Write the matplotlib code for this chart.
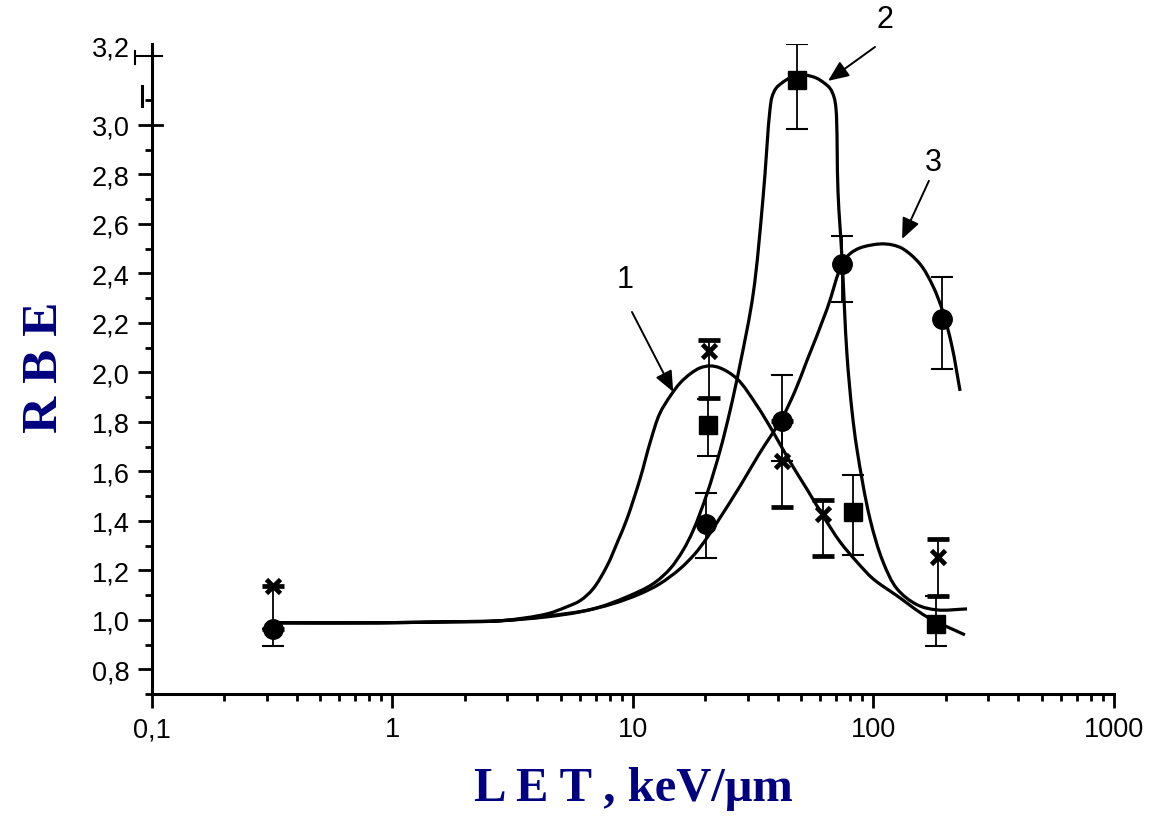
import matplotlib
matplotlib.use("Agg")
import numpy as np
import matplotlib.pyplot as plt
import matplotlib.transforms as mtransforms
from matplotlib.path import Path
from matplotlib.patches import PathPatch
from matplotlib.ticker import FixedLocator, FixedFormatter, NullFormatter

plt.rcParams["font.family"] = ["Liberation Sans", "DejaVu Sans"]

# measured points: 1 - crosses, 2 - squares, 3 - circles
let1 = [0.318, 20.7, 41.7, 61.7, 185.4]
rbe1 = [1.137, 2.087, 1.642, 1.428, 1.255]
err1_lo = [0.173, 0.19, 0.185, 0.169, 0.158]
err1_hi = [0.0, 0.044, 0.16, 0.057, 0.072]

let2 = [20.5, 48.1, 82.2, 182.0]
rbe2 = [1.788, 3.182, 1.436, 0.984]
err2_lo = [0.125, 0.198, 0.173, 0.089]
err2_hi = [0.105, 0.145, 0.150, 0.113]

let3 = [0.318, 20.1, 41.7, 74.0, 192.8]
rbe3 = [0.964, 1.388, 1.804, 2.438, 2.216]
err3_lo = [0.069, 0.138, 0.162, 0.153, 0.202]
err3_hi = [0.0, 0.125, 0.186, 0.113, 0.170]

# fitted curves
fit1_x = [0.318, 0.887, 1.73, 2.80, 4.39, 5.32, 6.02, 6.82, 7.80, 8.66, 9.44, 10.7,
          11.8, 12.9, 14.3, 15.7, 17.3, 19.0, 20.9, 23.0, 27.1, 32.8, 38.2, 45.0,
          52.8, 61.7, 72.6, 85.3, 99.5, 125.3, 166.8, 240.0]
fit1_y = [0.988, 0.988, 0.992, 0.996, 1.024, 1.053, 1.077, 1.125, 1.218, 1.319, 1.408, 1.570,
          1.719, 1.832, 1.905, 1.957, 1.994, 2.018, 2.026, 2.018, 1.974, 1.865, 1.760, 1.638,
          1.529, 1.420, 1.315, 1.234, 1.166, 1.097, 1.012, 0.939]

fit2_x = [0.318, 0.887, 1.73, 2.80, 4.39, 6.82, 9.44, 12.1, 14.25, 16.1,
          17.77, 20.3, 23.0, 25.31, 27.9, 31.6, 34.7, 37.13, 37.84,
          39.32, 41.65, 44.96, 50.93, 57.66, 62.27, 65.94, 68.5, 69.85, 71.2,
          74.0, 77.6, 81.4, 85.3, 96.7, 109.6, 125.3, 151.7, 183.6, 244.9]
fit2_y = [0.988, 0.988, 0.992, 0.996, 1.015, 1.044, 1.093, 1.145, 1.206, 1.279,
          1.360, 1.509, 1.683, 1.844, 2.034, 2.317, 2.701, 3.064, 3.113,
          3.148, 3.17, 3.19, 3.202, 3.19, 3.17, 3.148, 3.113, 3.064, 2.729,
          2.458, 2.07, 1.844, 1.691, 1.408, 1.234, 1.125, 1.061, 1.040, 1.044]

fit3_x = [0.318, 0.887, 1.73, 2.80, 4.39, 6.02, 8.26, 10.7, 12.9, 15.68, 18.1, 20.3,
          23.0, 27.9, 33.7, 41.7, 47.2, 52.8, 64.1, 74.0, 79.8, 87.9, 106.4,
          120.0, 132.7, 156.1, 176.6, 194.5, 211.8, 229.1]
fit3_y = [0.988, 0.988, 0.992, 0.996, 1.012, 1.032, 1.065, 1.105, 1.145, 1.206, 1.267, 1.331,
          1.412, 1.541, 1.675, 1.816, 1.925, 2.046, 2.256, 2.438, 2.479, 2.503, 2.519,
          2.515, 2.499, 2.438, 2.349, 2.244, 2.107, 1.925]

# curve numbers: label position, arrow start, arrow tip
curve_labels = ["1", "2", "3"]
label_pos = [(9.27, 2.378), (111.6, 3.428), (176.6, 2.850)]
arrow_from = [(9.9, 2.244), (101.4, 3.315), (170.0, 2.774)]
arrow_to = [(14.7, 1.921), (64.7, 3.178), (131.5, 2.539)]

yticks = [0.8, 1.0, 1.2, 1.4, 1.6, 1.8, 2.0, 2.2, 2.4, 2.6, 2.8, 3.0, 3.32]
ytick_labels = ["0,8", "1,0", "1,2", "1,4", "1,6", "1,8", "2,0", "2,2", "2,4",
                "2,6", "2,8", "3,0", "3,2"]
xticks = [0.1, 1, 10, 100, 1000]
xtick_labels = ["0,1", "1", "10", "100", "1000"]


def spline_path(ax, xs, ys):
    """Centripetal Catmull-Rom line through the points, built as Bezier segments."""
    p = ax.transData.transform(np.column_stack([xs, ys]))
    ext = np.vstack([2 * p[0] - p[1], p, 2 * p[-1] - p[-2]])
    verts = [p[0]]
    codes = [Path.MOVETO]
    for i in range(len(p) - 1):
        p0, p1, p2, p3 = ext[i], ext[i + 1], ext[i + 2], ext[i + 3]
        t01 = np.linalg.norm(p1 - p0) ** 0.5
        t12 = np.linalg.norm(p2 - p1) ** 0.5
        t23 = np.linalg.norm(p3 - p2) ** 0.5
        m1 = ((p1 - p0) / t01 - (p2 - p0) / (t01 + t12) + (p2 - p1) / t12) * t12
        m2 = ((p2 - p1) / t12 - (p3 - p1) / (t12 + t23) + (p3 - p2) / t23) * t12
        verts += [p1 + m1 / 3, p2 - m2 / 3, p2]
        codes += [Path.CURVE4] * 3
    verts = ax.transData.inverted().transform(np.array(verts))
    return Path(verts, codes)


fig = plt.figure(figsize=(11.55, 8.29), dpi=100)
ax = fig.add_axes([0.1316, 0.1616, 0.8329, 0.7841])

ax.set_xscale("log")
ax.set_xlim(0.1, 1000)
ax.set_ylim(0.7, 3.327)

for fx, fy in [(fit1_x, fit1_y), (fit2_x, fit2_y), (fit3_x, fit3_y)]:
    ax.add_patch(PathPatch(spline_path(ax, fx, fy), fill=False, ec="black",
                           lw=2.3, zorder=2))

eb = dict(ecolor="black", elinewidth=1.3, capsize=8, capthick=1.5, ls="none", zorder=3)
ax.errorbar(let3, rbe3, yerr=[err3_lo, err3_hi], fmt="o", color="black",
            ms=14, **eb)
ax.errorbar(let2, rbe2, yerr=[err2_lo, err2_hi], fmt="s", color="black",
            ms=12.5, **eb)
ax.errorbar(let1, rbe1, yerr=[err1_lo, err1_hi], fmt="x", color="black",
            ms=10.5, mew=3.4, **eb)

for lab, p, a, b in zip(curve_labels, label_pos, arrow_from, arrow_to):
    ax.annotate("", xy=b, xytext=a,
                arrowprops=dict(arrowstyle="-|>,head_length=0.7,head_width=0.3",
                                mutation_scale=18, lw=1.4, color="black",
                                shrinkA=0, shrinkB=0),
                annotation_clip=False)
    ax.text(p[0], p[1], lab, fontsize=22, ha="center", va="center", clip_on=False)

ax.xaxis.set_major_locator(FixedLocator(xticks))
ax.xaxis.set_major_formatter(FixedFormatter(xtick_labels))
minor_x = [m * 10.0 ** e for e in range(-1, 3) for m in range(2, 10)]
ax.xaxis.set_minor_locator(FixedLocator(minor_x))
ax.xaxis.set_minor_formatter(NullFormatter())

ax.yaxis.set_major_locator(FixedLocator(yticks))
ax.yaxis.set_major_formatter(FixedFormatter(ytick_labels))
ax.yaxis.set_minor_locator(FixedLocator([0.7, 0.9, 1.1, 1.3, 1.5, 1.7, 1.9, 2.1,
                                         2.3, 2.5, 2.7, 2.9, 3.1]))

for side in ("top", "right"):
    ax.spines[side].set_visible(False)
for side in ("left", "bottom"):
    ax.spines[side].set_linewidth(2.2)

ax.tick_params(which="major", direction="out", length=10, width=2,
               labelsize=19.5, pad=6)
ax.tick_params(which="minor", direction="out", length=5, width=2)

# the top tick is drawn as a crossing mark with a small bar
ax.yaxis.get_major_ticks()[-1].tick1line.set_visible(False)
trans = mtransforms.blended_transform_factory(ax.transAxes, ax.transData)
ax.plot([-0.0177, 0.0104], [3.279, 3.279], color="black", lw=1.5,
        transform=trans, clip_on=False)
ax.plot([-0.0177, -0.0177], [3.246, 3.30], color="black", lw=1.5,
        transform=trans, clip_on=False)
ax.plot([-0.0104, -0.0104], [3.077, 3.157], color="black", lw=2.2,
        transform=trans, clip_on=False)
ax.plot([0, 0.0104], [3.0, 3.0], color="black", lw=2,
        transform=trans, clip_on=False)

label_font = dict(family=["Liberation Serif", "DejaVu Serif"], weight="bold",
                  color="#000080")
ax.set_xlabel("L E T , keV/\u03bcm", fontsize=35, **label_font)
ax.xaxis.set_label_coords(0.5, -0.11)
ax.set_ylabel("R B E", fontsize=37, **label_font)
ax.yaxis.set_label_coords(-0.087, 0.505)

fig.savefig("out.png", dpi=100)
